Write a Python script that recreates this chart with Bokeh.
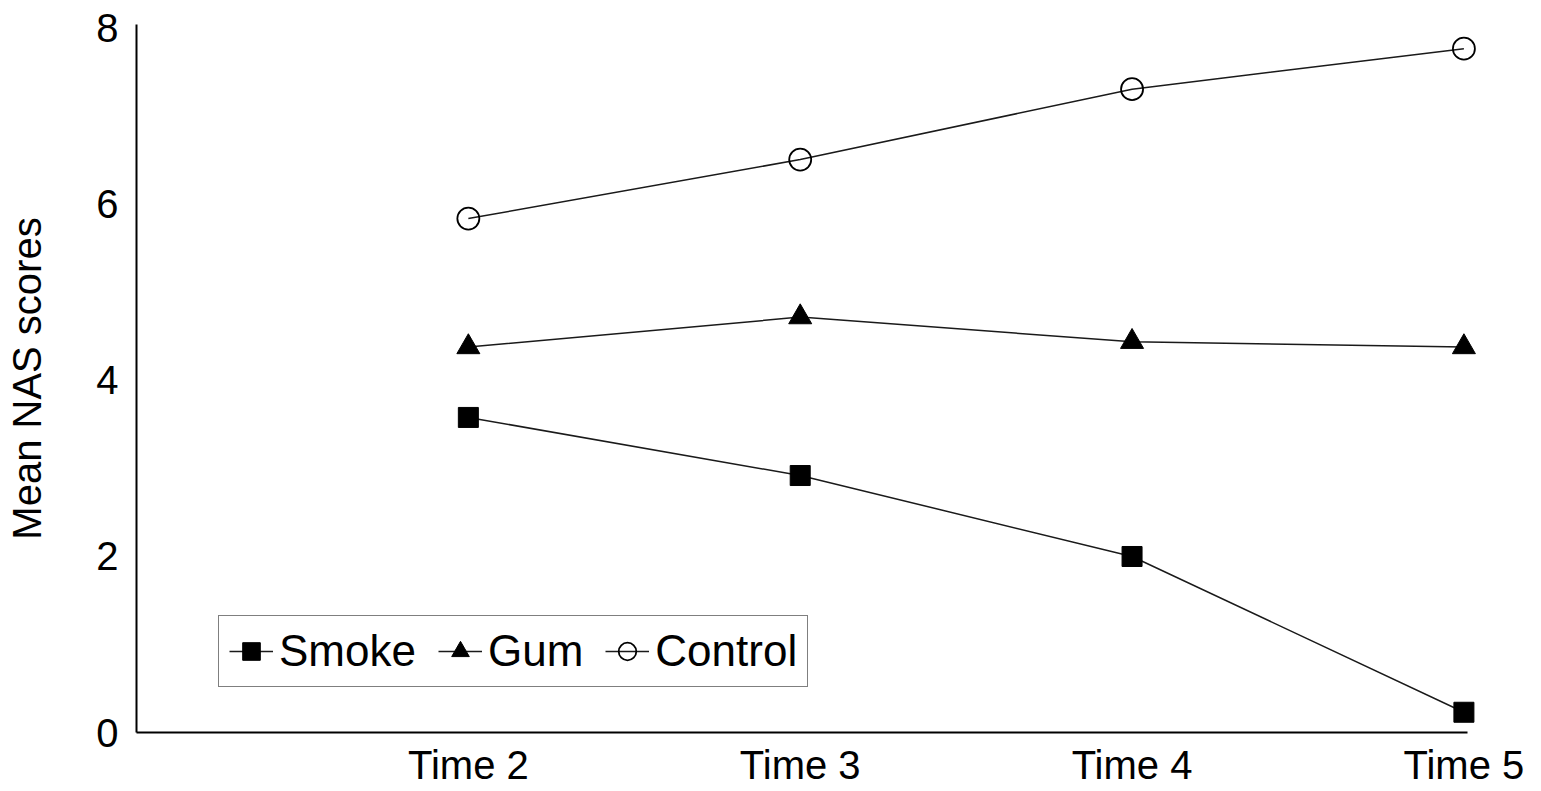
from bokeh.plotting import figure
from bokeh.models import FixedTicker, Legend, LegendItem
from bokeh.embed import file_html
from bokeh.resources import INLINE

# Data
times = ["Time 2", "Time 3", "Time 4", "Time 5"]
time_index = [2, 3, 4, 5]
smoke = [3.58, 2.92, 2.00, 0.23]
gum = [4.38, 4.72, 4.44, 4.38]
control = [5.84, 6.51, 7.31, 7.77]
y_ticks = [0, 2, 4, 6, 8]

FONT = "Liberation Sans"

p = figure(width=1533, height=789, output_backend="svg", toolbar_location=None,
           x_range=(1, 5.05), y_range=(0, 8.045),
           min_border_left=136, min_border_right=53, min_border_top=24, min_border_bottom=57)
p.outline_line_color = None
p.xgrid.visible = False
p.ygrid.visible = False

line_kw = dict(line_color="#1a1a1a", line_width=1.5)

r1 = p.line(time_index, smoke, **line_kw)
m1 = p.scatter(time_index, smoke, marker="square", size=20, fill_color="black", line_color="black")
r2 = p.line(time_index, gum, **line_kw)
m2 = p.scatter(time_index, gum, marker="triangle", size=23, fill_color="black", line_color="black")
r3 = p.line(time_index, control, **line_kw)
m3 = p.scatter(time_index, control, marker="circle", size=22, fill_alpha=0,
               line_color="black", line_width=1.8)

# Axes
p.xaxis.ticker = FixedTicker(ticks=time_index)
p.xaxis.major_label_overrides = {t: lab for t, lab in zip(time_index, times)}
p.yaxis.ticker = FixedTicker(ticks=y_ticks)
for ax in (p.xaxis[0], p.yaxis[0]):
    ax.major_tick_line_color = None
    ax.minor_tick_line_color = None
    ax.major_tick_out = 0
    ax.major_tick_in = 0
    ax.minor_tick_out = 0
    ax.minor_tick_in = 0
    ax.axis_line_color = "black"
    ax.axis_line_width = 2
    ax.major_label_text_font = FONT
    ax.major_label_text_font_size = "40px"
    ax.major_label_text_color = "black"
p.xaxis.bounds = (1, 5.01)
p.xaxis.major_label_standoff = 10
p.yaxis.major_label_standoff = 18
p.yaxis.axis_label = "Mean NAS scores"
p.yaxis.axis_label_text_font = FONT
p.yaxis.axis_label_text_font_size = "40px"
p.yaxis.axis_label_text_font_style = "normal"
p.yaxis.axis_label_text_color = "black"
p.yaxis.axis_label_standoff = 44

legend = Legend(items=[
    LegendItem(label="Smoke", renderers=[r1, m1]),
    LegendItem(label="Gum", renderers=[r2, m2]),
    LegendItem(label="Control", renderers=[r3, m3]),
], orientation="horizontal", location=(82, 45))
legend.label_text_font = FONT
legend.label_text_font_size = "44px"
legend.label_text_color = "black"
legend.glyph_width = 44
legend.glyph_height = 48
legend.label_standoff = 6
legend.spacing = 22
legend.padding = 10
legend.margin = 0
legend.border_line_color = "black"
legend.border_line_width = 1.5
legend.background_fill_alpha = 1
p.add_layout(legend, "center")

open("out.html", "w").write(file_html(p, INLINE))
